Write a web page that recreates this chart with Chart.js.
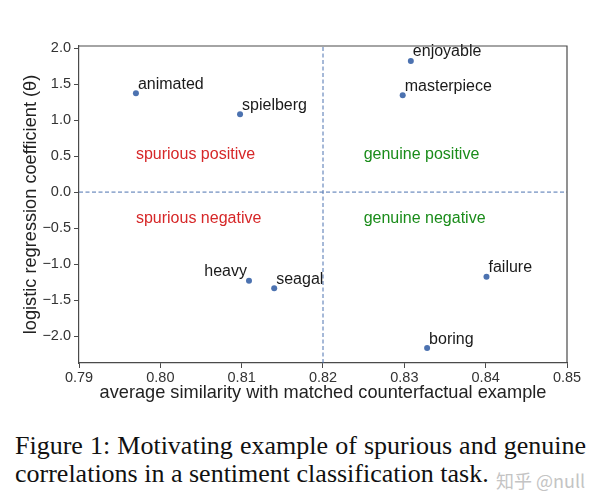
<!DOCTYPE html>
<html>
<head>
<meta charset="utf-8">
<script src="https://cdn.jsdelivr.net/npm/chart.js@4"></script>
<style>
  body { margin: 0; background: #fff; }
  #wrap { position: absolute; left: 0; top: 0; width: 600px; height: 420px; }
  .cap { position: absolute; left: 15px; font-family: "Liberation Serif", "DejaVu Serif", serif;
         font-size: 26px; color: #111; white-space: nowrap; line-height: 26px; }
  .mark { position: absolute; font-family: "Noto Sans CJK SC", "Liberation Sans", sans-serif;
          font-size: 18px; color: #c4c4c4; white-space: nowrap; line-height: 18px; }
</style>
</head>
<body>
<div id="wrap"><canvas id="chart"></canvas></div>
<div class="cap" style="top:433px;word-spacing:0.6px">Figure 1: Motivating example of spurious and genuine</div>
<div class="cap" style="top:461px">correlations in a sentiment classification task.</div>
<div class="mark" style="left:496px;top:471px">知乎 @null</div>
<script>
// words and their values
const words = ['animated', 'spielberg', 'enjoyable', 'masterpiece', 'heavy', 'seagal', 'failure', 'boring'];
const similarity = [0.797, 0.8098, 0.8308, 0.8298, 0.8109, 0.8140, 0.8401, 0.8328];
const coefficient = [1.375, 1.083, 1.823, 1.347, -1.232, -1.338, -1.176, -2.167];
const labelLeft = ['heavy']; // labels drawn to the left of their point

// quadrant annotations
const quadText = ['spurious positive', 'genuine positive', 'spurious negative', 'genuine negative'];
const quadX = [0.797, 0.825, 0.797, 0.825];
const quadY = [0.52, 0.52, -0.37, -0.37];
const quadColor = ['#d62728', '#1a8c1a', '#d62728', '#1a8c1a'];

// axes
const xMin = 0.79, xMax = 0.85, xStep = 0.01;
const yMin = -2.375, yMax = 2.03, yStep = 0.5;
const xSplit = 0.82, ySplit = 0;

const BLUE = '#4c72b0';
const AXIS = '#4a4a4a';
const FONT = '"Liberation Sans", Arial, sans-serif';

const points = words.map((w, i) => ({ x: similarity[i], y: coefficient[i] }));

// draw the top/right spines, word labels and quadrant text
const extras = {
  id: 'extras',
  afterDatasetsDraw(chart) {
    const { ctx, chartArea: a, scales } = chart;
    ctx.save();
    ctx.strokeStyle = AXIS;
    ctx.lineWidth = 1.2;
    ctx.beginPath();
    ctx.moveTo(a.left, a.top);
    ctx.lineTo(a.right, a.top);
    ctx.lineTo(a.right, a.bottom);
    ctx.stroke();

    ctx.font = '16px ' + FONT;
    ctx.fillStyle = '#1a1a1a';
    ctx.textBaseline = 'alphabetic';
    const meta = chart.getDatasetMeta(2);
    meta.data.forEach((el, i) => {
      const left = labelLeft.includes(words[i]);
      ctx.textAlign = left ? 'right' : 'left';
      ctx.fillText(words[i], el.x + (left ? -2 : 2), el.y - 4.5);
    });

    ctx.textAlign = 'left';
    ctx.textBaseline = 'middle';
    quadText.forEach((t, i) => {
      ctx.fillStyle = quadColor[i];
      ctx.fillText(t, scales.x.getPixelForValue(quadX[i]), scales.y.getPixelForValue(quadY[i]));
    });
    ctx.restore();
  }
};

const dashed = {
  type: 'line',
  borderColor: BLUE,
  borderWidth: 1,
  borderDash: [4, 2.5],
  pointRadius: 0,
  fill: false
};

new Chart(document.getElementById('chart'), {
  type: 'scatter',
  data: {
    datasets: [
      Object.assign({ data: [{ x: xSplit, y: yMin }, { x: xSplit, y: yMax }] }, dashed),
      Object.assign({ data: [{ x: xMin, y: ySplit }, { x: xMax, y: ySplit }] }, dashed),
      {
        data: points,
        backgroundColor: BLUE,
        borderWidth: 0,
        pointRadius: 3
      }
    ]
  },
  options: {
    responsive: true,
    maintainAspectRatio: false,
    animation: false,
    layout: { padding: { top: 46, right: 33, left: 0, bottom: 0 } },
    plugins: { legend: { display: false }, tooltip: { enabled: false } },
    scales: {
      x: {
        type: 'linear',
        min: xMin, max: xMax,
        afterFit: s => { s.height = 57; },
        border: { display: true, color: AXIS, width: 1.2 },
        grid: { drawOnChartArea: false, drawTicks: true, tickLength: 5, color: AXIS },
        ticks: {
          stepSize: xStep, padding: 1, color: '#333',
          font: { family: FONT, size: 14.5 },
          callback: v => v.toFixed(2)
        },
        title: {
          display: true, text: 'average similarity with matched counterfactual example',
          color: '#222', font: { family: FONT, size: 18.2 }, padding: { top: 0, bottom: 16 }
        }
      },
      y: {
        type: 'linear',
        min: yMin, max: yMax,
        afterFit: s => { s.width = 79; },
        border: { display: true, color: AXIS, width: 1.2 },
        grid: { drawOnChartArea: false, drawTicks: true, tickLength: 5, color: AXIS },
        ticks: {
          stepSize: yStep, includeBounds: false, padding: 3, color: '#333',
          font: { family: FONT, size: 14.5 },
          callback: v => v.toFixed(1).replace('-', '\u2212')
        },
        title: {
          display: true, text: 'logistic regression coefficient (\u03b8)',
          color: '#222', font: { family: FONT, size: 18.2 }, padding: { top: 20, bottom: 0 }
        }
      }
    }
  },
  plugins: [extras]
});
</script>
</body>
</html>
